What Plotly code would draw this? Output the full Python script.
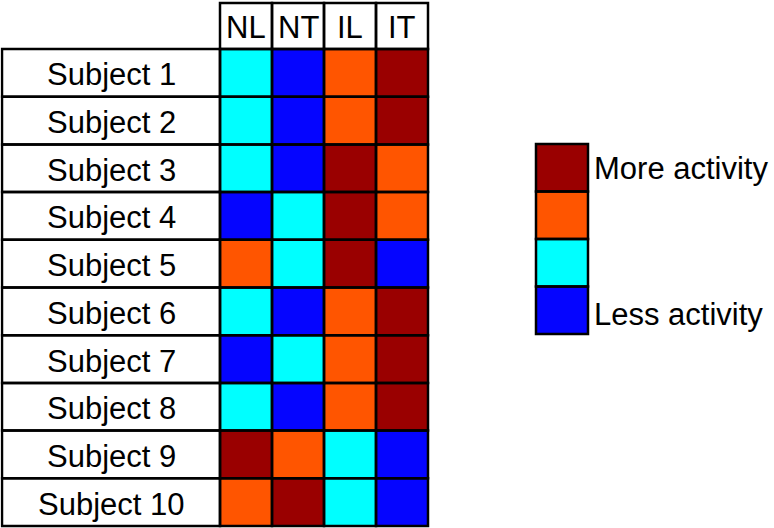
import plotly.graph_objects as go

# activity level per subject: 1 = less activity ... 4 = more activity
subjects = ["Subject 1", "Subject 2", "Subject 3", "Subject 4", "Subject 5",
            "Subject 6", "Subject 7", "Subject 8", "Subject 9", "Subject 10"]
conditions = ["NL", "NT", "IL", "IT"]
NL = [2, 2, 2, 1, 3, 2, 1, 2, 4, 3]
NT = [1, 1, 1, 2, 2, 1, 2, 1, 3, 4]
IL = [3, 3, 4, 4, 4, 3, 3, 3, 2, 2]
IT = [4, 4, 3, 3, 1, 4, 4, 4, 1, 1]
legend_levels = [4, 3, 2, 1]
legend_labels = ["More activity", "", "", "Less activity"]
level_colors = ["#0505FF", "#00FFFF", "#FF5500", "#9A0000"]

W, H = 774, 528
FONT = dict(family="Arial, Liberation Sans, sans-serif", size=31, color="black")

# pixel geometry of the table
COL_PX = 52.0        # width of one condition column
ROW_PX = 47.7        # height of one subject row
X0_PX = 220.0        # left edge of the NL column
Y0_PX = 49.0         # top edge of the first subject row
LABEL_W = 218.0 / COL_PX
HEAD_H = 46.0 / ROW_PX

colorscale = []
for k, c in enumerate(level_colors):
    colorscale += [[k / 4, c], [(k + 1) / 4, c]]

z = [[NL[i], NT[i], IL[i], IT[i]] for i in range(len(subjects))]
xc = [j + 0.5 for j in range(len(conditions))]
yc = [i + 0.5 for i in range(len(subjects))]

fig = go.Figure()
fig.add_heatmap(z=z, x=xc, y=yc, colorscale=colorscale, zmin=0.5, zmax=4.5,
                showscale=False, hoverinfo="skip", xaxis="x", yaxis="y")

# legend swatches
fig.add_heatmap(z=[[v] for v in legend_levels], x=[0.5],
                y=[k + 0.5 for k in range(len(legend_levels))],
                colorscale=colorscale, zmin=0.5, zmax=4.5, showscale=False,
                hoverinfo="skip", xaxis="x2", yaxis="y2")

shapes = []
line = dict(color="black", width=2.5)
for i in range(len(subjects)):
    shapes.append(dict(type="rect", xref="x", yref="y", x0=-LABEL_W, x1=0,
                       y0=i, y1=i + 1, line=line))
    for j in range(len(conditions)):
        shapes.append(dict(type="rect", xref="x", yref="y", x0=j, x1=j + 1,
                           y0=i, y1=i + 1, line=line))
for j in range(len(conditions)):
    shapes.append(dict(type="rect", xref="x", yref="y", x0=j, x1=j + 1,
                       y0=-HEAD_H, y1=0, line=line))
for k in range(len(legend_levels)):
    shapes.append(dict(type="rect", xref="x2", yref="y2", x0=0, x1=1,
                       y0=k, y1=k + 1, line=line))

annotations = []
for i, s in enumerate(subjects):
    annotations.append(dict(text=s, xref="x", yref="y", x=-LABEL_W / 2, y=yc[i],
                            yshift=-2, showarrow=False, font=FONT))
for j, c in enumerate(conditions):
    annotations.append(dict(text=c, xref="x", yref="y", x=xc[j], y=-HEAD_H / 2,
                            yshift=-1, showarrow=False, font=FONT))
for k, lab in enumerate(legend_labels):
    if lab:
        annotations.append(dict(text=lab, xref="x2", yref="y2", x=1, y=k + 0.5,
                                xanchor="left", yanchor="middle", xshift=4,
                                yshift=-1 if k == 0 else -4,
                                showarrow=False, font=FONT))

xr = [-4.22, 4.04]
yr = [10.04, -1.01]
xdom = [(X0_PX + COL_PX * xr[0]) / W, (X0_PX + COL_PX * xr[1]) / W]
ydom = [1 - (Y0_PX + ROW_PX * yr[0]) / H, 1 - (Y0_PX + ROW_PX * yr[1]) / H]

# legend box: 536..588 px wide, 144..334 px tall
LX0, LX1, LY0, LY1 = 536.0, 588.0, 144.0, 334.0
lpx = LX1 - LX0
lpy = (LY1 - LY0) / 4
x2r = [-0.04, 1.04]
y2r = [4.04, -0.04]
x2dom = [(LX0 + lpx * x2r[0]) / W, (LX0 + lpx * x2r[1]) / W]
y2dom = [1 - (LY0 + lpy * y2r[0]) / H, 1 - (LY0 + lpy * y2r[1]) / H]

axis = dict(visible=False, fixedrange=True)
fig.update_layout(
    width=W, height=H,
    margin=dict(l=0, r=0, t=0, b=0),
    paper_bgcolor="white", plot_bgcolor="white",
    showlegend=False,
    xaxis=dict(axis, range=xr, domain=xdom),
    yaxis=dict(axis, range=yr, domain=ydom),
    xaxis2=dict(axis, range=x2r, domain=x2dom, anchor="y2"),
    yaxis2=dict(axis, range=y2r, domain=y2dom, anchor="x2"),
    shapes=shapes,
    annotations=annotations,
)

# drop the browser's default page margin so the figure starts at the corner
fig.write_html("out.html", config={"displayModeBar": False},
               post_script="document.body.style.margin='0';")
